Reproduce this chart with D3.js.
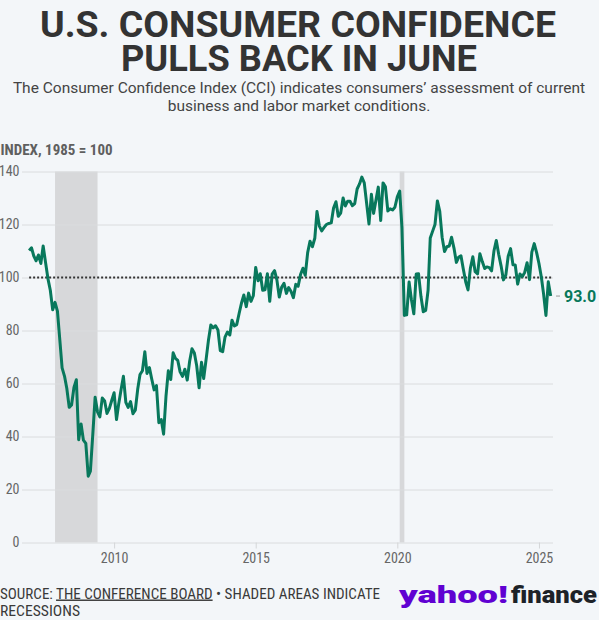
<!DOCTYPE html>
<html>
<head>
<meta charset="utf-8">
<script src="https://cdn.jsdelivr.net/npm/d3@7"></script>
<style>
  html, body { margin: 0; padding: 0; background: #f3f6f9; }
  svg { display: block; }
</style>
</head>
<body>
<div id="chart"></div>
<script>
// monthly CCI values, Jan..Dec
const cci2007 = [110.2, 111.2, 108.2, 106.3, 108.5, 105.3, 111.9, 105.6, 99.5, 95.2, 87.8, 90.6];
const cci2008 = [87.3, 76.4, 65.9, 62.8, 58.1, 51.0, 51.9, 58.5, 61.4, 38.8, 44.7, 38.6];
const cci2009 = [37.4, 25.0, 26.9, 40.8, 54.8, 49.3, 47.4, 54.5, 53.4, 48.7, 50.6, 53.6];
const cci2010 = [56.5, 46.4, 52.3, 57.7, 62.7, 52.9, 51.0, 53.2, 48.6, 49.9, 57.8, 63.4];
const cci2011 = [64.8, 72.0, 63.8, 66.0, 61.7, 57.6, 59.2, 45.2, 46.4, 40.9, 55.2, 64.8];
const cci2012 = [61.5, 71.6, 69.5, 68.7, 64.4, 62.7, 65.4, 61.3, 68.4, 73.1, 71.5, 66.7];
const cci2013 = [58.4, 68.0, 61.9, 69.0, 76.2, 82.1, 81.0, 81.8, 80.2, 72.4, 72.0, 77.5];
const cci2014 = [79.4, 78.3, 83.9, 81.7, 82.2, 86.4, 90.3, 93.4, 89.0, 94.1, 91.0, 93.1];
const cci2015 = [103.8, 98.8, 101.4, 95.2, 95.4, 101.4, 91.0, 101.3, 102.6, 99.1, 92.6, 96.3];
const cci2016 = [97.8, 94.0, 96.2, 94.7, 92.4, 97.4, 96.7, 101.1, 103.5, 100.8, 109.4, 113.7];
const cci2017 = [111.6, 114.8, 124.9, 119.4, 117.6, 118.9, 120.0, 120.4, 120.6, 126.2, 128.6, 123.1];
const cci2018 = [124.3, 130.0, 127.0, 128.8, 128.8, 127.1, 127.9, 133.4, 135.3, 137.9, 135.7, 128.1];
const cci2019 = [120.2, 131.4, 124.2, 129.2, 134.1, 121.5, 135.7, 134.2, 125.1, 125.9, 125.5, 126.5];
const cci2020 = [130.4, 132.6, 118.8, 85.7, 85.9, 98.3, 91.7, 86.3, 101.3, 101.4, 92.9, 87.1];
const cci2021 = [87.6, 95.2, 114.9, 117.5, 120.0, 128.9, 125.1, 115.2, 109.8, 111.6, 111.9, 115.2];
const cci2022 = [111.1, 105.7, 107.6, 108.2, 103.2, 98.4, 95.3, 103.6, 107.8, 102.2, 101.4, 109.0];
const cci2023 = [106.0, 103.4, 104.0, 103.7, 102.5, 110.1, 114.0, 108.7, 104.3, 99.1, 101.0, 108.0];
const cci2024 = [110.9, 104.8, 104.7, 97.5, 101.3, 100.4, 101.9, 105.6, 99.2, 109.6, 112.8, 109.5];
const cci2025 = [105.3, 100.1, 93.9, 85.7, 98.4, 93.0];

const years = [2007, 2008, 2009, 2010, 2011, 2012, 2013, 2014, 2015, 2016,
  2017, 2018, 2019, 2020, 2021, 2022, 2023, 2024, 2025];
const yearValues = [cci2007, cci2008, cci2009, cci2010, cci2011, cci2012, cci2013,
  cci2014, cci2015, cci2016, cci2017, cci2018, cci2019, cci2020, cci2021, cci2022,
  cci2023, cci2024, cci2025];

const recessions = [['2007-12-01', '2009-06-01'], ['2020-02-01', '2020-04-01']];
const yTicks = [0, 20, 40, 60, 80, 100, 120, 140];
const xTickYears = [2010, 2015, 2020, 2025];

const WIDTH = 599;
const HEIGHT = 620;
const GREEN = '#08785c';
const narrow = "'Liberation Sans Narrow', 'Roboto Condensed', Roboto, sans-serif";

const dataset = years.flatMap((year, i) =>
  yearValues[i].map((value, m) => ({ date: new Date(year, m, 1), value }))
);
const last = dataset[dataset.length - 1];

const svg = d3.create('svg').attr('width', WIDTH).attr('height', HEIGHT);

svg.append('rect').attr('width', WIDTH).attr('height', HEIGHT).attr('fill', '#f3f6f9');

// title (one text, two lines) + subtitle
const title = svg.append('text')
  .attr('font-family', 'Roboto, sans-serif')
  .attr('font-weight', 700)
  .attr('font-size', 37)
  .attr('fill', '#333')
  .attr('text-anchor', 'middle');
title.append('tspan').attr('x', 298).attr('y', 37)
  .attr('textLength', 516).attr('lengthAdjust', 'spacingAndGlyphs')
  .text('U.S. CONSUMER CONFIDENCE');
title.append('tspan').attr('x', 299).attr('y', 71)
  .attr('textLength', 356).attr('lengthAdjust', 'spacingAndGlyphs')
  .text('PULLS BACK IN JUNE');

const sub = svg.append('g')
  .attr('font-family', 'Roboto, sans-serif')
  .attr('font-size', 15.5)
  .attr('fill', '#444')
  .attr('text-anchor', 'middle');
sub.append('text').attr('x', 299).attr('y', 93)
  .text('The Consumer Confidence Index (CCI) indicates consumers\u2019 assessment of current');
sub.append('text').attr('x', 299).attr('y', 111)
  .text('business and labor market conditions.');

svg.append('text')
  .attr('x', 0.5).attr('y', 155)
  .attr('font-family', narrow).attr('font-weight', 700).attr('font-size', 15)
  .attr('fill', '#5f5f5f')
  .text('INDEX, 1985 = 100');

// scales
const x = d3.scaleTime()
  .domain([new Date(2006, 9, 1), new Date(2025, 6, 1)])
  .range([22, 553]);
const y = d3.scaleLinear().domain([0, 140]).range([542.5, 171.5]);

// recession bands
svg.append('g')
  .selectAll('rect')
  .data(recessions)
  .join('rect')
  .attr('x', (d) => x(new Date(d[0])))
  .attr('width', (d) => x(new Date(d[1])) - x(new Date(d[0])))
  .attr('y', y(140))
  .attr('height', y(0) - y(140))
  .attr('fill', '#d7d8da');

// y gridlines
const yAxis = svg.append('g')
  .attr('transform', 'translate(22, 0)')
  .call(d3.axisLeft(y).tickValues(yTicks).tickSize(-(553 - 22)).tickPadding(2.5));
yAxis.select('.domain').remove();
yAxis.selectAll('line').attr('stroke', '#dadcde');
yAxis.selectAll('text')
  .attr('font-family', narrow).attr('font-size', 14).attr('fill', '#666');

// x axis
const xAxis = svg.append('g')
  .attr('transform', `translate(0, ${y(0)})`)
  .call(d3.axisBottom(x)
    .tickValues(xTickYears.map((yr) => new Date(yr, 0, 1)))
    .tickFormat(d3.timeFormat('%Y'))
    .tickSize(6).tickPadding(4.5));
xAxis.select('.domain').remove();
xAxis.selectAll('line').attr('stroke', '#d4d6d8');
xAxis.selectAll('text')
  .attr('font-family', narrow).attr('font-size', 14).attr('fill', '#666');

// reference line at 100
svg.append('line')
  .attr('x1', x(dataset[0].date)).attr('x2', 553)
  .attr('y1', y(100)).attr('y2', y(100))
  .attr('stroke', '#333').attr('stroke-width', 2)
  .attr('stroke-dasharray', '2,2');

// CCI line
const line = d3.line().x((d) => x(d.date)).y((d) => y(d.value));
svg.append('path')
  .datum(dataset)
  .attr('d', line)
  .attr('fill', 'none')
  .attr('stroke', GREEN)
  .attr('stroke-width', 3)
  .attr('stroke-linejoin', 'round');

// end label
svg.append('line')
  .attr('x1', 556).attr('x2', 560)
  .attr('y1', y(last.value)).attr('y2', y(last.value))
  .attr('stroke', '#999').attr('stroke-width', 1);
svg.append('text')
  .attr('x', 564).attr('y', y(last.value)).attr('dy', '0.36em')
  .attr('font-family', 'Roboto, sans-serif').attr('font-weight', 700).attr('font-size', 16)
  .attr('fill', GREEN)
  .text(d3.format('.1f')(last.value));

// footer
const foot = svg.append('g')
  .attr('font-family', narrow).attr('font-size', 14.5).attr('fill', '#3a3a3a');
const line1 = foot.append('text').attr('x', 0).attr('y', 598.5)
  .attr('textLength', 380).attr('lengthAdjust', 'spacingAndGlyphs');
line1.append('tspan').text('SOURCE: ');
line1.append('tspan').attr('text-decoration', 'underline').text('THE CONFERENCE BOARD');
line1.append('tspan').text(' \u2022 SHADED AREAS INDICATE');
foot.append('text').attr('x', 0).attr('y', 615.5)
  .attr('textLength', 80).attr('lengthAdjust', 'spacingAndGlyphs')
  .text('RECESSIONS');

// logo
const logo = svg.append('g')
  .attr('font-family', 'Roboto, sans-serif').attr('font-weight', 900).attr('font-size', 23);
logo.append('text').attr('x', 399).attr('y', 603)
  .attr('textLength', 109).attr('lengthAdjust', 'spacingAndGlyphs')
  .attr('fill', '#6001d2').text('yahoo!');
logo.append('text').attr('x', 511).attr('y', 603)
  .attr('textLength', 86).attr('lengthAdjust', 'spacingAndGlyphs')
  .attr('fill', '#1d2228').text('finance');

document.getElementById('chart').appendChild(svg.node());
</script>
</body>
</html>
